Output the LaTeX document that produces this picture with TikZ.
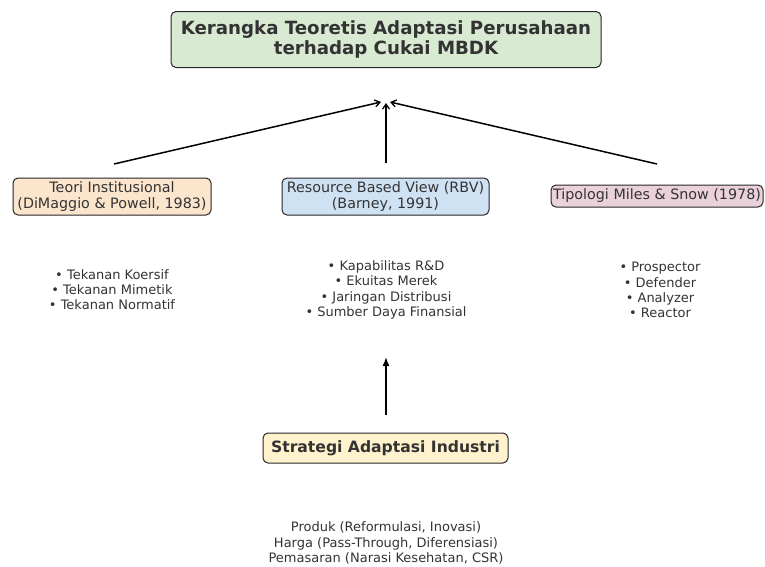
\documentclass[tikz,border=0pt]{standalone}
\usepackage{fontspec}
\setmainfont{DejaVu Sans}
\usetikzlibrary{arrows.meta}
\definecolor{txt}{HTML}{333333}
\definecolor{cTitle}{HTML}{D9EAD3}
\definecolor{cInst}{HTML}{FCE5CD}
\definecolor{cRbv}{HTML}{CFE2F3}
\definecolor{cMiles}{HTML}{EAD1DC}
\definecolor{cStrat}{HTML}{FFF2CC}
\tikzset{
  box/.style={draw=black!85, line width=1pt, rounded corners=5pt, text=txt, align=center, inner sep=0pt},
  plain/.style={text=txt, align=center, inner sep=0pt, font=\fontsize{13}{15.2}\selectfont},
  openarr/.style={-{Straight Barb[length=5pt,width=7pt,line width=1.3pt]}, line width=1.5pt, black},
  fillarr/.style={-{Latex[length=9pt,width=7pt]}, line width=1.5pt, black},
}
\begin{document}
\begin{tikzpicture}[x=1pt,y=-1pt]
\useasboundingbox (0,0) rectangle (765,566);
\node[box, fill=cTitle, minimum width=430pt, minimum height=56pt, font=\fontsize{18.2}{19.5}\selectfont\bfseries] (title) at (386,39.5) {Kerangka Teoretis Adaptasi Perusahaan\\terhadap Cukai MBDK};
\node[box, fill=cInst, minimum width=198pt, minimum height=37pt, font=\fontsize{14.3}{16}\selectfont] (inst) at (112,196.5) {Teori Institusional\\(DiMaggio \& Powell, 1983)};
\node[box, fill=cRbv, minimum width=207pt, minimum height=37pt, font=\fontsize{14.3}{16}\selectfont] (rbv) at (385.5,196.5) {Resource Based View (RBV)\\(Barney, 1991)};
\node[box, fill=cMiles, minimum width=212pt, minimum height=22pt, font=\fontsize{14.3}{16}\selectfont] (miles) at (657,196) {Tipologi Miles \& Snow (1978)};
\node[box, fill=cStrat, minimum width=245pt, minimum height=30pt, font=\fontsize{15.6}{17}\selectfont\bfseries] (strat) at (385.5,448) {Strategi Adaptasi Industri};

\node[plain] (instlist) at (112,289.5) {• Tekanan Koersif\\• Tekanan Mimetik\\• Tekanan Normatif};
\node[plain] (rbvlist) at (386,290) {• Kapabilitas R\&D\\• Ekuitas Merek\\• Jaringan Distribusi\\• Sumber Daya Finansial};
\node[plain] (mileslist) at (660,290) {• Prospector\\• Defender\\• Analyzer\\• Reactor};
\node[plain] (stratlist) at (386,543) {Produk (Reformulasi, Inovasi)\\Harga (Pass-Through, Diferensiasi)\\Pemasaran (Narasi Kesehatan, CSR)};

\coordinate (apexL) at (381,102);
\coordinate (apexC) at (386,103);
\coordinate (apexR) at (390,102);
\coordinate (fromL) at (114,164);
\coordinate (fromC) at (386,163);
\coordinate (fromR) at (657,164);
\coordinate (sFrom) at (386,415);
\coordinate (sTo) at (386,357);
\draw[openarr] (fromL) -- (apexL);
\draw[openarr] (fromC) -- (apexC);
\draw[openarr] (fromR) -- (apexR);
\draw[fillarr] (sFrom) -- (sTo);
\end{tikzpicture}
\end{document}
